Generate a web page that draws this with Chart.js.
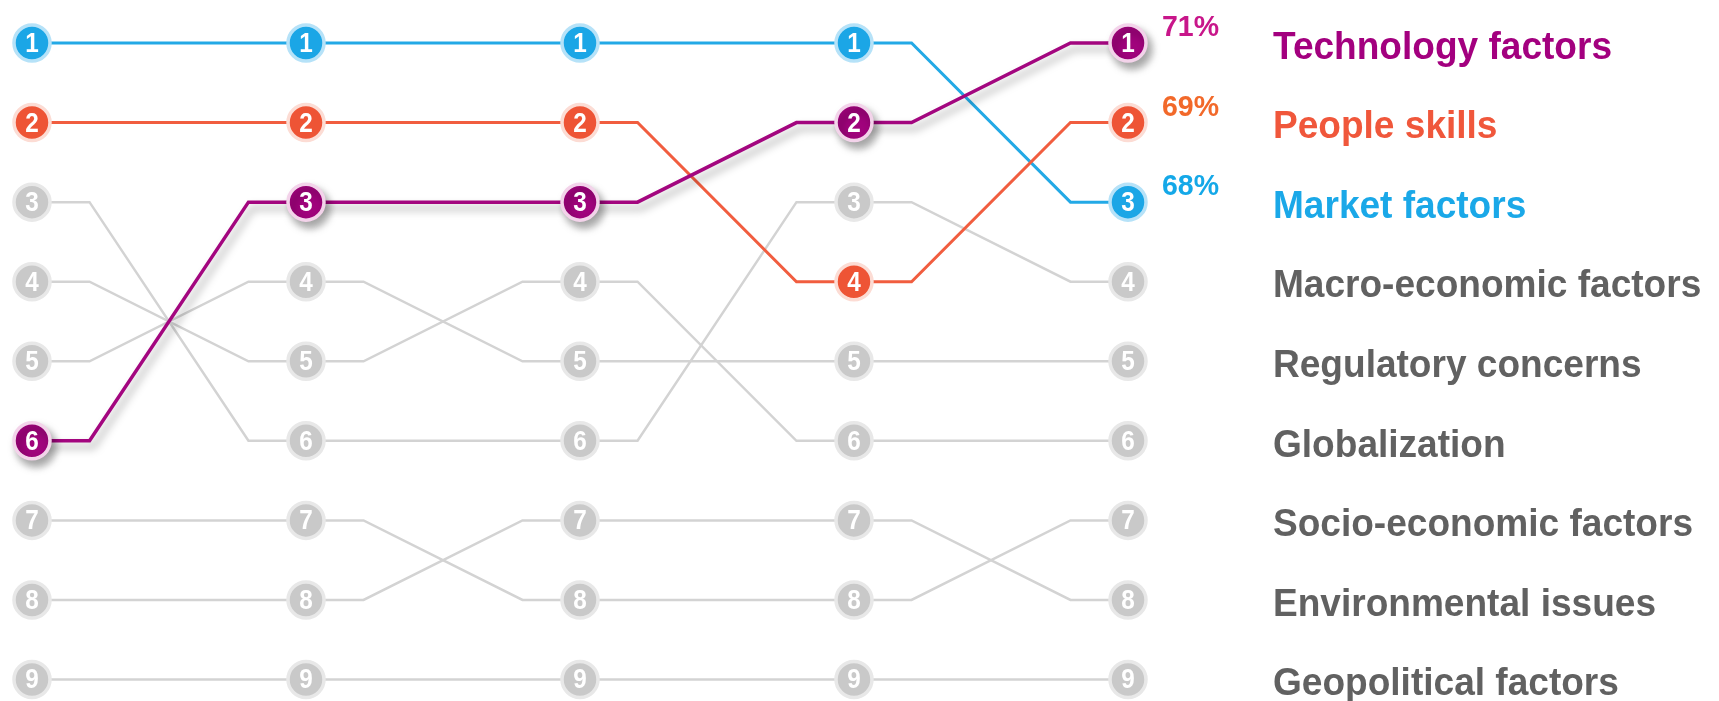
<!DOCTYPE html>
<html>
<head>
<meta charset="utf-8">
<script src="https://cdn.jsdelivr.net/npm/chart.js@4"></script>
<style>
  body { margin: 0; background: #fff; }
  #wrap { width: 1719px; height: 701px; }
</style>
</head>
<body>
<div id="wrap"><canvas id="rankChart" width="1719" height="701"></canvas></div>
<script>
// rank of each factor in the five surveys (1 = most important)
var factors = ['Technology factors', 'People skills', 'Market factors', 'Macro-economic factors',
  'Regulatory concerns', 'Globalization', 'Socio-economic factors', 'Environmental issues', 'Geopolitical factors'];
var techRanks = [6, 3, 3, 2, 1];
var peopleRanks = [2, 2, 2, 4, 2];
var marketRanks = [1, 1, 1, 1, 3];
var macroRanks = [3, 6, 6, 3, 4];
var regulatoryRanks = [5, 4, 5, 5, 5];
var globalRanks = [4, 5, 4, 6, 6];
var socioRanks = [7, 7, 8, 8, 7];
var environmentRanks = [8, 8, 7, 7, 8];
var geoRanks = [9, 9, 9, 9, 9];
var shares = ['71%', '69%', '68%'];

var allRanks = [techRanks, peopleRanks, marketRanks, macroRanks, regulatoryRanks,
  globalRanks, socioRanks, environmentRanks, geoRanks];

var lineColors = ['#a3067f', '#f15d3f', '#23a9e6'];
var nodeColors = ['#a0037c', '#ee5435', '#1ba6e6'];
var haloColors = ['#f3d3ea', '#fcdcd4', '#b6e2f8'];
var textColors = ['#a3007f', '#f0573b', '#1aa8e8'];
var shareColors = ['#c8168a', '#f2692a', '#14a8e8'];
var GREY_LINE = '#d3d3d3', GREY_NODE = '#c9c9c9', GREY_HALO = '#e8e8e8', GREY_TEXT = '#616161';

var STEP = 0.21; // flat part on each side of a node, in column units

function buildPoints(ranks) {
  var pts = [];
  ranks.forEach(function (r, i) {
    if (i > 0) pts.push({ x: i - STEP, y: r });
    pts.push({ x: i, y: r, node: true });
    if (i < ranks.length - 1) pts.push({ x: i + STEP, y: r });
  });
  return pts;
}

var datasets = allRanks.map(function (ranks, k) {
  var hot = k < 3;
  return {
    label: factors[k],
    data: buildPoints(ranks),
    borderColor: hot ? lineColors[k] : GREY_LINE,
    borderWidth: hot ? (k === 0 ? 3.5 : 3) : 2.5,
    pointBackgroundColor: hot ? nodeColors[k] : GREY_NODE,
    pointBorderColor: hot ? haloColors[k] : GREY_HALO,
    pointBorderWidth: 3.5,
    pointRadius: function (c) { return c.raw && c.raw.node ? 18 : 0; },
    pointHoverRadius: function (c) { return c.raw && c.raw.node ? 18 : 0; },
    tension: 0,
    clip: false,
    shadow: k === 0,
    order: k
  };
});

var shadowPlugin = {
  id: 'shadow',
  beforeDatasetDraw: function (chart, args) {
    if (!chart.data.datasets[args.index].shadow) return;
    var ctx = chart.ctx;
    ctx.save();
    ctx.shadowColor = 'rgba(0,0,0,0.35)';
    ctx.shadowBlur = 9;
    ctx.shadowOffsetX = 4;
    ctx.shadowOffsetY = 6;
  },
  afterDatasetDraw: function (chart, args) {
    if (chart.data.datasets[args.index].shadow) chart.ctx.restore();
  }
};

var labelPlugin = {
  id: 'labels',
  afterDatasetsDraw: function (chart) {
    var ctx = chart.ctx;
    var yScale = chart.scales.y;
    var xScale = chart.scales.x;
    ctx.save();
    ctx.textAlign = 'center';
    ctx.textBaseline = 'middle';
    ctx.fillStyle = '#fff';
    ctx.font = 'bold 27px Arial, "Liberation Sans", sans-serif';
    chart.data.datasets.forEach(function (ds, k) {
      chart.getDatasetMeta(k).data.forEach(function (el, j) {
        var raw = ds.data[j];
        if (!raw.node) return;
        ctx.save();
        ctx.translate(el.x, el.y + 1.5);
        ctx.scale(0.9, 1);
        ctx.fillText(String(raw.y), 0, 0);
        ctx.restore();
      });
    });

    // factor names at the final rank
    var lastCol = techRanks.length - 1;
    var right = xScale.getPixelForValue(lastCol);
    ctx.textAlign = 'left';
    allRanks.forEach(function (ranks, k) {
      var y = yScale.getPixelForValue(ranks[lastCol]);
      ctx.save();
      ctx.font = 'bold 39px Arial, "Liberation Sans", sans-serif';
      ctx.fillStyle = k < 3 ? textColors[k] : GREY_TEXT;
      ctx.translate(right + 145, y + 5);
      ctx.scale(0.95, 1);
      ctx.fillText(factors[k], 0, 0);
      ctx.restore();
      if (k < shares.length) {
        ctx.save();
        ctx.font = 'bold 30px Arial, "Liberation Sans", sans-serif';
        ctx.fillStyle = shareColors[k];
        ctx.translate(right + 34, y - 15);
        ctx.scale(0.95, 1);
        ctx.fillText(shares[k], 0, 0);
        ctx.restore();
      }
    });
    ctx.restore();
  }
};

var ctx = document.getElementById('rankChart').getContext('2d');
var chart = new Chart(ctx, {
  type: 'line',
  data: { datasets: datasets },
  options: {
    responsive: false,
    animation: false,
    events: [],
    layout: {
      padding: { left: 32, right: 591, top: 43, bottom: 19 }
    },
    plugins: {
      legend: { display: false },
      tooltip: { enabled: false }
    },
    scales: {
      x: { type: 'linear', min: 0, max: 4, display: false },
      y: { type: 'linear', min: 1, max: 9, reverse: true, display: false }
    }
  },
  plugins: [shadowPlugin, labelPlugin]
});
</script>
</body>
</html>
